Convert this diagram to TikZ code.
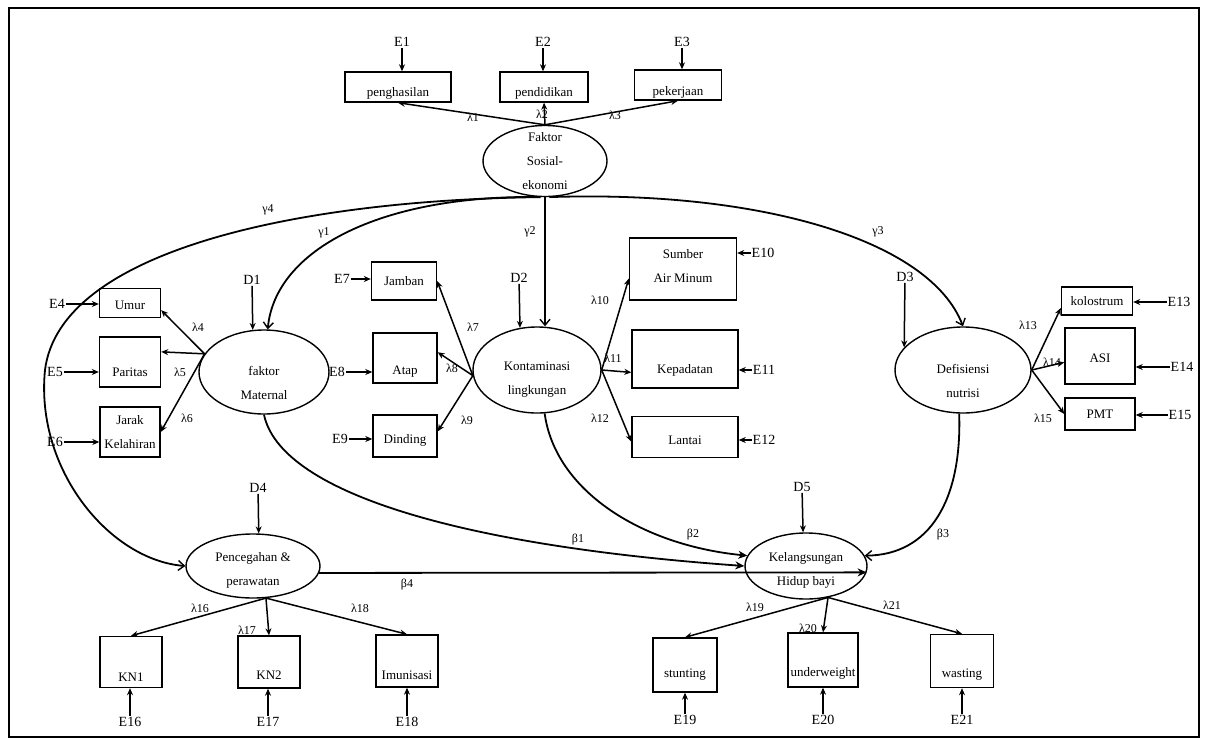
\documentclass[tikz,border=0pt]{standalone}
\usepackage{fontspec}
\setmainfont{Liberation Serif}
\usetikzlibrary{arrows.meta,shapes.geometric}
\begin{document}
\begin{tikzpicture}[x=1pt,y=-1pt,
  every node/.style={font=\fontsize{13}{24}\selectfont, inner sep=1pt},
  box/.style 2 args={draw, line width=1.4pt, minimum width=#1pt, minimum height=#2pt, inner sep=0pt, align=center},
  lat/.style 2 args={draw, ellipse, line width=1.4pt, minimum width=#1pt, minimum height=#2pt, inner sep=0pt, align=center},
  txt/.style={align=center, inner sep=0pt, font=\fontsize{13}{24}\selectfont},
  err/.style={font=\fontsize{14}{16}\selectfont, inner sep=1pt},
  lab/.style={font=\fontsize{12}{14}\selectfont, inner sep=0pt},
  ar/.style={-{Stealth[length=7pt,width=6pt]}, line width=1.5pt},
  cur/.style={-{Straight Barb[length=6pt,width=10pt,line width=1.4pt]}, line width=1.8pt},
  pth/.style={-{Stealth[length=9pt,width=8pt]}, line width=1.8pt},
]
\useasboundingbox (0,0) rectangle (1210,739);
\draw[line width=2.6pt] (9,8) rectangle (1199,737);

% latent variables
\node[lat={124}{71}, label={[txt]center:Faktor\\Sosial-\\ekonomi}] (fse) at (545,161) {};
\node[lat={130}{84}, label={[txt,yshift=-11pt]center:faktor\\Maternal}] (fm) at (264,372) {};
\node[lat={128}{86}, label={[txt,yshift=-10pt]center:Kontaminasi\\lingkungan}] (km) at (537,370) {};
\node[lat={136}{86}, label={[txt,yshift=-11pt]center:Defisiensi\\nutrisi}] (df) at (963,370) {};
\node[lat={134}{64}, label={[txt,yshift=-4pt]center:Pencegahan \&\\perawatan}] (pc) at (253,566) {};
\node[lat={122}{66}, label={[txt,yshift=-4pt]center:Kelangsungan\\Hidup bayi}] (kh) at (806,566) {};

% observed variables
\node[box={106}{30}, label={[txt,yshift=-6pt]center:penghasilan}] (peng) at (398,87) {};
\node[box={88}{30}, label={[txt,yshift=-6pt]center:pendidikan}] (pend) at (544,87) {};
\node[box={87}{30}, label={[txt,yshift=-7pt]center:pekerjaan}] (pek) at (678,85) {};

\node[box={61}{29}, label={[txt,yshift=-2pt]center:Umur}] (umur) at (130,303) {};
\node[box={61}{50}, label={[txt,yshift=-10pt]center:Paritas}] (par) at (130,362) {};
\node[box={60}{50}, label={[txt]center:Jarak\\Kelahiran}] (jar) at (130,432) {};

\node[box={65}{38}, label={[txt]center:Jamban}] (jam) at (404,281) {};
\node[box={64}{50}, label={[txt,yshift=-14pt]center:Atap}] (atap) at (405,358) {};
\node[box={64}{42}, label={[txt,yshift=-4pt]center:Dinding}] (din) at (405,436) {};

\node[box={107}{62}, label={[txt,yshift=3pt]center:Sumber\\Air Minum}] (sum) at (683,269) {};
\node[box={106}{58}, label={[txt,yshift=-11pt]center:Kepadatan}] (kep) at (685,359) {};
\node[box={106}{41}, label={[txt,yshift=-3pt]center:Lantai}] (lan) at (685,437) {};

\node[box={71}{28}, label={[txt]center:kolostrum}] (kol) at (1097,301) {};
\node[box={70}{56}, label={[txt,yshift=-2pt]center:ASI}] (asi) at (1100,356) {};
\node[box={70}{32}, label={[txt]center:PMT}] (pmt) at (1100,414) {};

\node[box={62}{51}, label={[txt,yshift=-15pt]center:KN1}] (kn1) at (131,662) {};
\node[box={62}{52}, label={[txt,yshift=-13pt]center:KN2}] (kn2) at (269,662) {};
\node[box={62}{52}, label={[txt,yshift=-14pt]center:Imunisasi}] (imun) at (407,661) {};

\node[box={64}{54}, label={[txt,yshift=-10pt]center:stunting}] (stunt) at (685,665) {};
\node[box={70}{54}, label={[txt,yshift=-13pt]center:underweight}] (under) at (823,660) {};
\node[box={63}{53}, label={[txt,yshift=-14pt]center:wasting}] (wast) at (962,661) {};

% error / disturbance labels
\node[err] (e1) at (402,42) {E1};
\node[err] (e2) at (543,42) {E2};
\node[err] (e3) at (682,42) {E3};
\node[err] (e4) at (57,304) {E4};
\node[err] (e5) at (55,372) {E5};
\node[err] (e6) at (55,442) {E6};
\node[err] (e7) at (342,279) {E7};
\node[err] (e8) at (337,372) {E8};
\node[err] (e9) at (340,439) {E9};
\node[err] (e10) at (763,253) {E10};
\node[err] (e11) at (764,370) {E11};
\node[err] (e12) at (764,440) {E12};
\node[err] (e13) at (1179,302) {E13};
\node[err] (e14) at (1182,367) {E14};
\node[err] (e15) at (1180,415) {E15};
\node[err] (e16) at (130,722) {E16};
\node[err] (e17) at (268,722) {E17};
\node[err] (e18) at (407,722) {E18};
\node[err] (e19) at (685,720) {E19};
\node[err] (e20) at (823,720) {E20};
\node[err] (e21) at (962,720) {E21};
\node[err] (d1) at (252,280) {D1};
\node[err] (d2) at (519,278) {D2};
\node[err] (d3) at (905,277) {D3};
\node[err] (d4) at (258,488) {D4};
\node[err] (d5) at (802,487) {D5};

% error arrows
\draw[ar] (e1) -- (e1 |- peng.north);
\draw[ar] (e2) -- (e2 |- pend.north);
\draw[ar] (e3) -- (e3 |- pek.north);
\draw[ar] (e4) -- (e4 -| umur.west);
\draw[ar] (e5) -- (e5 -| par.west);
\draw[ar] (e6) -- (e6 -| jar.west);
\draw[ar] (e7) -- (e7 -| jam.west);
\draw[ar] (e8) -- (e8 -| atap.west);
\draw[ar] (e9) -- (e9 -| din.west);
\draw[ar] (e10) -- (e10 -| sum.east);
\draw[ar] (e11) -- (e11 -| kep.east);
\draw[ar] (e12) -- (e12 -| lan.east);
\draw[ar] (e13) -- (e13 -| kol.east);
\draw[ar] (e14) -- (e14 -| asi.east);
\draw[ar] (e15) -- (e15 -| pmt.east);
\draw[ar] (e16) -- (e16 |- kn1.south);
\draw[ar] (e17) -- (e17 |- kn2.south);
\draw[ar] (e18) -- (e18 |- imun.south);
\draw[ar] (e19) -- (e19 |- stunt.south);
\draw[ar] (e20) -- (e20 |- under.south);
\draw[ar] (e21) -- (e21 |- wast.south);
\draw[ar] (d1) -- (fm.105);
\draw[ar] (d2) -- (km.112);
\draw[ar] (d3) -- (df.159);
\draw[ar] (d4) -- (pc.80);
\draw[ar] (d5) -- (kh.95);

% loadings
\draw[ar] (fse.north) -- (peng.south);
\draw[ar] (fse.north) -- (pend.south);
\draw[ar] (fse.north) -- (pek.south);
\draw[ar] (fm.163) -- (umur.-13);
\draw[ar] (fm.163) -- (par.18);
\draw[ar] (fm.163) -- (jar.east);
\draw[ar] (km.185) -- (jam.east);
\draw[ar] (km.185) -- (atap.10);
\draw[ar] (km.185) -- (din.8);
\draw[ar] (km.east) -- (sum.190);
\draw[ar] (km.east) -- (kep.194);
\draw[ar] (km.east) -- (lan.185);
\draw[ar] (df.east) -- (kol.191);
\draw[ar] (df.east) -- (asi.190);
\draw[ar] (df.east) -- (pmt.west);
\draw[ar] (pc.-68) -- (kn1.north);
\draw[ar] (pc.-68) -- (kn2.north);
\draw[ar] (pc.-68) -- (imun.north);
\draw[ar] (kh.-55) -- (stunt.north);
\draw[ar] (kh.-55) -- (under.north);
\draw[ar] (kh.-55) -- (wast.north);

% structural paths
\draw[cur] (fse.-97) .. controls (300,200) and (60,250) .. (45,370) .. controls (35,470) and (110,560) .. (pc.west);
\draw[cur] (fse.-100) .. controls (380,195) and (275,250) .. (fm.85);
\draw[cur] (fse.south) -- (fse.south |- km.north);
\draw[cur] (fse.-83) .. controls (760,190) and (930,240) .. (df.north);
\draw[pth] (fm.-90) .. controls (280,490) and (450,545) .. (kh.west);
\draw[pth] (km.-80) .. controls (555,490) and (640,545) .. (kh.170);
\draw[pth] (pc.-6) -- (kh.-6);
\draw[cur] (df.-95) .. controls (962,500) and (930,555) .. (kh.10);

% coefficient labels
\node[lab] (l1) at (473,117) {λ1};
\node[lab] (l2) at (542,114) {λ2};
\node[lab] (l3) at (615,115) {λ3};
\node[lab] (g4) at (268,210) {γ4};
\node[lab] (g1) at (324,233) {γ1};
\node[lab] (g2) at (530,232) {γ2};
\node[lab] (g3) at (878,232) {γ3};
\node[lab] (l4) at (198,327) {λ4};
\node[lab] (l5) at (180,372) {λ5};
\node[lab] (l6) at (187,418) {λ6};
\node[lab] (l7) at (473,327) {λ7};
\node[lab] (l8) at (452,368) {λ8};
\node[lab] (l9) at (467,420) {λ9};
\node[lab] (l10) at (600,300) {λ10};
\node[lab] (l11) at (613,358) {λ11};
\node[lab] (l12) at (600,418) {λ12};
\node[lab] (l13) at (1028,325) {λ13};
\node[lab] (l14) at (1052,362) {λ14};
\node[lab] (l15) at (1043,418) {λ15};
\node[lab] (b1) at (578,540) {β1};
\node[lab] (b2) at (693,535) {β2};
\node[lab] (b3) at (943,535) {β3};
\node[lab] (b4) at (407,585) {β4};
\node[lab] (l16) at (200,608) {λ16};
\node[lab] (l17) at (247,630) {λ17};
\node[lab] (l18) at (360,608) {λ18};
\node[lab] (l19) at (755,607) {λ19};
\node[lab] (l20) at (808,628) {λ20};
\node[lab] (l21) at (892,605) {λ21};
\end{tikzpicture}
\end{document}
